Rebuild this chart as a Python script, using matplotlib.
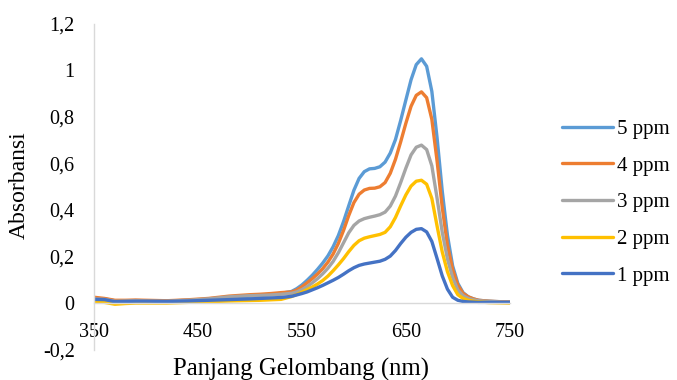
import matplotlib
matplotlib.use("Agg")
import matplotlib.pyplot as plt

plt.rcParams['font.family'] = ['Liberation Serif', 'DejaVu Serif']

# wavelength (nm)
wl = [350, 360, 370, 380, 390, 400, 420, 440, 460, 480, 500, 510, 520, 530,
      540, 545, 550, 555, 560, 565, 570, 575, 580, 585, 590, 595, 600, 605,
      610, 615, 620, 625, 630, 635, 640, 645, 650, 655, 660, 665, 670, 675,
      680, 685, 690, 695, 700, 705, 710, 715, 720, 730, 740, 750]

ppm5 = [0.020, 0.018, 0.010, 0.010, 0.011, 0.010, 0.009, 0.012, 0.016, 0.022, 0.030, 0.033, 0.037, 0.042,
        0.050, 0.062, 0.078, 0.098, 0.120, 0.145, 0.172, 0.203, 0.242, 0.290, 0.350, 0.418, 0.485, 0.536,
        0.565, 0.577, 0.579, 0.586, 0.606, 0.645, 0.703, 0.785, 0.873, 0.960, 1.025, 1.050, 1.018, 0.910,
        0.712, 0.482, 0.292, 0.160, 0.085, 0.045, 0.027, 0.018, 0.012, 0.008, 0.006, 0.005]
ppm4 = [0.025, 0.020, 0.012, 0.012, 0.013, 0.012, 0.010, 0.014, 0.020, 0.030, 0.036, 0.038, 0.041, 0.045,
        0.048, 0.056, 0.070, 0.087, 0.105, 0.125, 0.148, 0.176, 0.211, 0.256, 0.312, 0.376, 0.432, 0.468,
        0.486, 0.493, 0.494, 0.500, 0.518, 0.558, 0.618, 0.693, 0.773, 0.846, 0.893, 0.908, 0.883, 0.790,
        0.612, 0.412, 0.250, 0.145, 0.077, 0.042, 0.027, 0.018, 0.012, 0.008, 0.006, 0.005]
ppm3 = [0.018, 0.016, 0.008, 0.009, 0.010, 0.009, 0.008, 0.012, 0.018, 0.027, 0.032, 0.033, 0.035, 0.038,
        0.042, 0.048, 0.058, 0.071, 0.087, 0.105, 0.126, 0.150, 0.179, 0.216, 0.259, 0.302, 0.334, 0.353,
        0.363, 0.369, 0.374, 0.380, 0.391, 0.417, 0.460, 0.518, 0.580, 0.637, 0.670, 0.679, 0.660, 0.590,
        0.452, 0.305, 0.190, 0.110, 0.056, 0.032, 0.020, 0.014, 0.010, 0.007, 0.005, 0.004]
ppm2 = [0.005, 0.003, -0.005, -0.002, 0.000, 0.000, 0.000, 0.003, 0.006, 0.009, 0.011, 0.012, 0.014, 0.016,
        0.028, 0.037, 0.047, 0.058, 0.069, 0.082, 0.097, 0.116, 0.139, 0.164, 0.191, 0.221, 0.248, 0.268,
        0.279, 0.285, 0.290, 0.295, 0.304, 0.328, 0.368, 0.418, 0.465, 0.503, 0.524, 0.528, 0.511, 0.450,
        0.332, 0.220, 0.135, 0.075, 0.036, 0.020, 0.012, 0.008, 0.005, 0.002, 0.001, 0.000]
ppm1 = [0.016, 0.015, 0.006, 0.007, 0.008, 0.008, 0.007, 0.009, 0.012, 0.015, 0.018, 0.020, 0.022, 0.024,
        0.029, 0.035, 0.041, 0.048, 0.057, 0.066, 0.076, 0.087, 0.098, 0.110, 0.124, 0.139, 0.152, 0.162,
        0.168, 0.172, 0.176, 0.180, 0.188, 0.202, 0.226, 0.256, 0.283, 0.304, 0.317, 0.320, 0.306, 0.265,
        0.192, 0.117, 0.060, 0.025, 0.012, 0.007, 0.005, 0.004, 0.003, 0.003, 0.003, 0.003]

series = [("5 ppm", ppm5, "#5B9BD5"),
          ("4 ppm", ppm4, "#ED7D31"),
          ("3 ppm", ppm3, "#A5A5A5"),
          ("2 ppm", ppm2, "#FFC000"),
          ("1 ppm", ppm1, "#4472C4")]

xticks = [350, 450, 550, 650, 750]
yticks = [-0.2, 0, 0.2, 0.4, 0.6, 0.8, 1, 1.2]
ylabels = ["-0,2", "0", "0,2", "0,4", "0,6", "0,8", "1", "1,2"]

fig = plt.figure(figsize=(6.77, 3.8), dpi=100)
ax = fig.add_axes([0.139, 0.080, 0.614, 0.857])

for name, vals, col in series:
    ax.plot(wl, vals, color=col, lw=2.4, label=name,
            solid_capstyle='round', solid_joinstyle='round')

ax.set_xlim(350, 750)
ax.set_ylim(-0.2, 1.2)
ax.set_xticks(xticks)
ax.set_yticks(yticks)
ax.set_yticklabels(ylabels)

for s in ['top', 'right']:
    ax.spines[s].set_visible(False)
ax.spines['bottom'].set_position(('data', 0))
for s in ['left', 'bottom']:
    ax.spines[s].set_color('#D9D9D9')
    ax.spines[s].set_linewidth(1)
ax.tick_params(axis='both', length=0, labelsize=14.5, colors='#000000')
ax.tick_params(axis='y', pad=14)
ax.tick_params(axis='x', pad=14)

fig.text(19 / 677, 1 - 185 / 380, "Absorbansi", rotation=90, ha='center', va='center', fontsize=17)
fig.text(301 / 677, 1 - 369 / 380, "Panjang Gelombang (nm)", ha='center', va='center', fontsize=17.8)

fig.legend(loc='center left', bbox_to_anchor=(0.830, 0.467), frameon=False,
           fontsize=15, handlelength=2.45, handletextpad=0.2, labelspacing=0.82,
           borderpad=0, borderaxespad=0)

fig.savefig("out.png", dpi=100)
